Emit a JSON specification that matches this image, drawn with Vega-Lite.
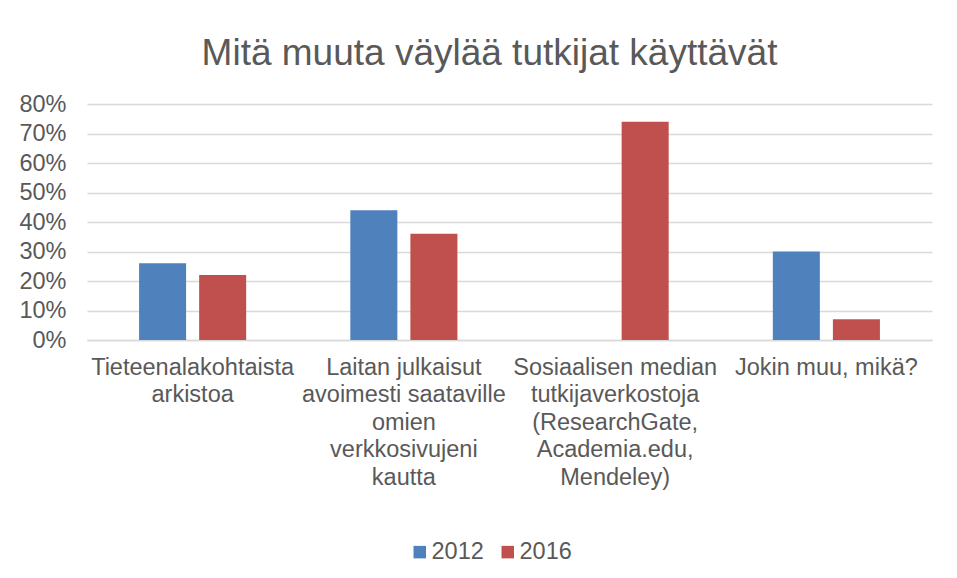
{
  "$schema": "https://vega.github.io/schema/vega-lite/v6.json",
  "autosize": {"type": "none"},
  "width": 845,
  "height": 236,
  "padding": {"left": 87, "top": 104, "right": 25, "bottom": 238},
  "background": "white",
  "title": {
    "text": "Mitä muuta väylää tutkijat käyttävät",
    "font": "Liberation Sans",
    "fontSize": 37,
    "fontWeight": "normal",
    "color": "#595959",
    "anchor": "middle",
    "frame": "group",
    "dx": -20,
    "offset": 19
  },
  "data": {
    "values": [
      {"kategoria": "Tieteenalakohtaista|arkistoa", "vuosi": "2012", "osuus": 0.26},
      {"kategoria": "Tieteenalakohtaista|arkistoa", "vuosi": "2016", "osuus": 0.22},
      {"kategoria": "Laitan julkaisut|avoimesti saataville|omien|verkkosivujeni|kautta", "vuosi": "2012", "osuus": 0.44},
      {"kategoria": "Laitan julkaisut|avoimesti saataville|omien|verkkosivujeni|kautta", "vuosi": "2016", "osuus": 0.36},
      {"kategoria": "Sosiaalisen median|tutkijaverkostoja|(ResearchGate,|Academia.edu,|Mendeley)", "vuosi": "2016", "osuus": 0.74},
      {"kategoria": "Jokin muu, mikä?", "vuosi": "2012", "osuus": 0.30},
      {"kategoria": "Jokin muu, mikä?", "vuosi": "2016", "osuus": 0.07}
    ]
  },
  "mark": {"type": "bar"},
  "encoding": {
    "x": {
      "field": "kategoria",
      "type": "nominal",
      "sort": null,
      "scale": {"paddingInner": 0, "paddingOuter": 0},
      "axis": {
        "title": null,
        "labelAngle": 0,
        "labelExpr": "split(datum.label, '|')",
        "labelFont": "Liberation Sans",
        "labelFontSize": 23.5,
        "labelLineHeight": 27.5,
        "labelColor": "#595959",
        "labelPadding": 15,
        "labelLimit": 0,
        "ticks": false,
        "domainColor": "#d9d9d9",
        "domainWidth": 1.5,
        "grid": false
      }
    },
    "xOffset": {
      "field": "vuosi",
      "type": "nominal",
      "scale": {"domain": ["2012", "2016"], "paddingInner": 0.217, "paddingOuter": 0.867}
    },
    "y": {
      "field": "osuus",
      "type": "quantitative",
      "scale": {"domain": [0, 0.8], "nice": false},
      "axis": {
        "title": null,
        "values": [0, 0.1, 0.2, 0.3, 0.4, 0.5, 0.6, 0.7, 0.8],
        "format": ".0%",
        "labelFont": "Liberation Sans",
        "labelFontSize": 23.5,
        "labelColor": "#595959",
        "labelPadding": 21,
        "ticks": false,
        "domain": false,
        "grid": true,
        "gridColor": "#d9d9d9",
        "gridWidth": 1.5
      }
    },
    "color": {
      "field": "vuosi",
      "type": "nominal",
      "scale": {"domain": ["2012", "2016"], "range": ["#4F81BD", "#C0504D"]},
      "legend": {
        "title": null,
        "orient": "none",
        "direction": "horizontal",
        "legendX": 321,
        "legendY": 436,
        "padding": 0,
        "symbolType": "square",
        "symbolSize": 156,
        "symbolStrokeWidth": 0,
        "labelFont": "Liberation Sans",
        "labelFontSize": 23.5,
        "labelColor": "#595959",
        "labelOffset": 0,
        "columnPadding": 12
      }
    }
  },
  "config": {
    "view": {"stroke": null}
  }
}
